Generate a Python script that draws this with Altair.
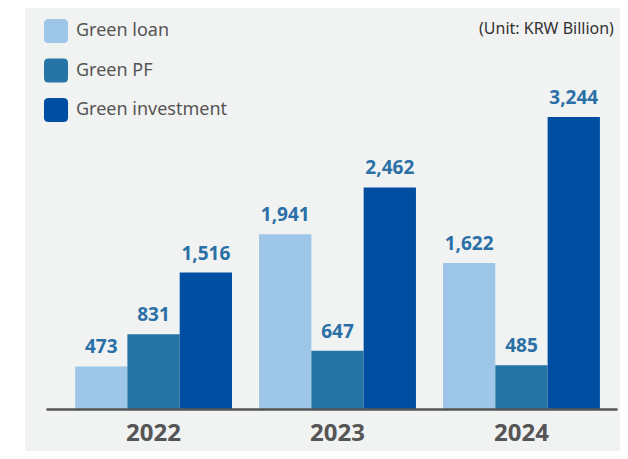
import altair as alt
import pandas as pd

years = ["2022", "2023", "2024"]
series = ["Green loan", "Green PF", "Green investment"]
green_loan = [473, 1941, 1622]
green_pf = [831, 647, 485]
green_investment = [1516, 2462, 3244]
colors = ["#9dc6e8", "#2474a6", "#004ea2"]

rows = []
for i, y in enumerate(years):
    for s, vals in zip(series, [green_loan, green_pf, green_investment]):
        rows.append({"year": y, "series": s, "value": vals[i]})
df = pd.DataFrame(rows)

FONT = "Noto Sans, Open Sans, sans-serif"
rounded = ("M -0.62,-1 L 0.62,-1 Q 1,-1 1,-0.62 L 1,0.62 Q 1,1 0.62,1 "
           "L -0.62,1 Q -1,1 -1,0.62 L -1,-0.62 Q -1,-1 -0.62,-1 Z")

W, H = 571, 401

x_enc = alt.X("year:N", sort=years, title=None,
              scale=alt.Scale(paddingInner=0.147, paddingOuter=0.1255, align=0.63),
              axis=alt.Axis(labelAngle=0, ticks=False, domainColor="#555555",
                            domainWidth=2.5, labelFont=FONT, labelFontSize=24,
                            labelFontWeight="bold", labelColor="#555555",
                            labelPadding=12, zindex=1))
xoff = alt.XOffset("series:N", sort=series,
                   scale=alt.Scale(paddingInner=0, paddingOuter=0))
y_enc = alt.Y("value:Q", axis=None,
              scale=alt.Scale(domain=[0, 4455], nice=False, zero=True))

bg = alt.Chart(pd.DataFrame({"a": [0]})).mark_rect(color="#f1f2f2").encode(
    x=alt.value(-21), x2=alt.value(574), y=alt.value(0), y2=alt.value(443)
)

bars = alt.Chart(df).mark_bar().encode(
    x=x_enc, xOffset=xoff, y=y_enc,
    color=alt.Color("series:N", sort=series,
                    scale=alt.Scale(domain=series, range=colors),
                    legend=alt.Legend(orient="none", legendX=-2, legendY=11,
                                      title=None, symbolType=rounded,
                                      symbolSize=576, symbolStrokeWidth=0,
                                      symbolOpacity=1, labelFont=FONT,
                                      labelFontSize=18, labelColor="#555555",
                                      rowPadding=15.5, labelOffset=8, padding=0)),
)

labels = alt.Chart(df).mark_text(
    baseline="bottom", dy=-9, font=FONT, fontSize=19, fontWeight="bold",
    color="#2a70a6"
).encode(
    x=x_enc, xOffset=xoff, y=y_enc, text=alt.Text("value:Q", format=",d")
)

unit = alt.Chart(pd.DataFrame({"t": ["(Unit: KRW Billion)"]})).mark_text(
    align="left", baseline="middle", font=FONT, fontSize=16, color="#333333"
).encode(x=alt.value(433), y=alt.value(21), text="t:N")

chart = alt.layer(bg, bars, labels, unit).properties(
    width=W, height=H,
    autosize=alt.AutoSizeParams(type="none"),
    padding={"left": 38, "top": 0, "right": 3, "bottom": 42},
    background="white",
).configure_view(stroke=None)

chart.save("out.html", embed_options={"renderer": "svg", "actions": False})
